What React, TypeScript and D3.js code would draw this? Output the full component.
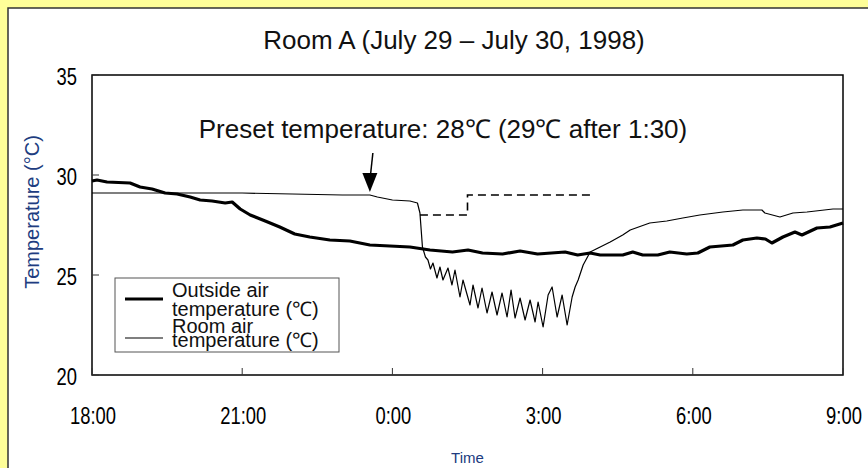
import React from "react";
import * as d3 from "d3";

// Hours elapsed since 18:00 on July 29
const outsideHours = [0, 0.1, 0.3, 0.76, 0.96, 1.2, 1.46, 1.7, 1.96, 2.16, 2.4, 2.66, 2.8, 2.96, 3.16, 3.46, 3.75, 4.05, 4.35, 4.75, 5.15, 5.55, 5.95, 6.35, 6.75, 7.2, 7.51, 7.8, 8.2, 8.55, 8.9, 9.45, 9.7, 9.95, 10.15, 10.6, 10.8, 11.0, 11.3, 11.54, 11.88, 12.1, 12.34, 12.8, 13.0, 13.28, 13.45, 13.58, 13.8, 14.04, 14.18, 14.48, 14.74, 15];
const outsideTemps = [29.7, 29.75, 29.65, 29.6, 29.4, 29.3, 29.1, 29.05, 28.9, 28.75, 28.7, 28.6, 28.65, 28.3, 28.0, 27.7, 27.4, 27.05, 26.9, 26.75, 26.7, 26.5, 26.45, 26.4, 26.25, 26.15, 26.25, 26.1, 26.05, 26.2, 26.05, 26.15, 26.0, 26.1, 26.0, 26.0, 26.15, 26.0, 26.0, 26.15, 26.05, 26.1, 26.4, 26.5, 26.75, 26.85, 26.8, 26.6, 26.9, 27.15, 27.0, 27.35, 27.4, 27.6];

const roomHours = [0, 2.0, 3.0, 4.0, 5.0, 5.55, 5.7, 6.0, 6.35, 6.5, 6.55, 6.6, 6.66, 6.71, 6.76, 6.81, 6.89, 6.95, 7.01, 7.11, 7.19, 7.25, 7.35, 7.41, 7.55, 7.61, 7.71, 7.79, 7.89, 7.99, 8.09, 8.19, 8.29, 8.37, 8.45, 8.55, 8.65, 8.75, 8.85, 8.91, 9.01, 9.11, 9.19, 9.29, 9.39, 9.49, 9.59, 9.65, 9.71, 9.81, 9.95, 10.11, 10.35, 10.6, 10.75, 11.14, 11.48, 11.8, 12.14, 12.6, 13.0, 13.38, 13.44, 13.74, 14.0, 14.28, 14.8, 15];
const roomTemps = [29.1, 29.1, 29.1, 29.05, 29.0, 29.0, 28.9, 28.75, 28.7, 28.6, 28.1, 26.4, 25.9, 25.75, 25.3, 25.6, 24.85, 25.4, 24.75, 25.35, 24.5, 25.25, 23.9, 24.75, 23.5, 24.5, 23.35, 24.35, 23.1, 24.15, 23.0, 24.1, 22.9, 24.25, 22.85, 23.85, 22.75, 23.75, 22.65, 23.65, 22.4, 24.0, 24.4, 22.9, 24.0, 22.5, 23.9, 24.4, 24.75, 25.5, 26.15, 26.35, 26.65, 27.0, 27.25, 27.6, 27.7, 27.85, 28.0, 28.15, 28.25, 28.25, 28.1, 27.9, 28.1, 28.15, 28.3, 28.3];

const presetHours = [6.55, 7.5, 7.5, 10.0];
const presetTemps = [28, 28, 29, 29];

const xTickHours = [0, 3, 6, 9, 12, 15];
const xTickLabels = ["18:00", "21:00", "0:00", "3:00", "6:00", "9:00"];
const yTicks = [20, 25, 30, 35];

const titleText = "Room A (July 29 \u2013 July 30, 1998)";
const annotationText = "Preset temperature: 28\u2103 (29\u2103 after 1:30)";
const legendLines = ["Outside air", "temperature (\u2103)", "Room air", "temperature (\u2103)"];
const arrowHour = 5.55;
const arrowFromTemp = 31.1;
const arrowToTemp = 29.15;

const W = 868;
const H = 468;
const M = { left: 92, right: 843, top: 75, bottom: 375 };
const NAVY = "#203c80";
const SANS = "'Liberation Sans', Arial, sans-serif";
const CONDENSE = 0.8;

export default function App() {
  const x = d3.scaleLinear().domain([0, 15]).range([M.left, M.right]);
  const y = d3.scaleLinear().domain([20, 35]).range([M.bottom, M.top]);
  const line = d3
    .line<[number, number]>()
    .x((d) => x(d[0]))
    .y((d) => y(d[1]));
  const outside = line(outsideHours.map((h, i) => [h, outsideTemps[i]]) as [number, number][]) || "";
  const room = line(roomHours.map((h, i) => [h, roomTemps[i]]) as [number, number][]) || "";
  const preset = line(presetHours.map((h, i) => [h, presetTemps[i]]) as [number, number][]) || "";

  const ax = x(arrowHour);
  const ay0 = y(arrowFromTemp);
  const ay1 = y(arrowToTemp);
  const legendBaselines = [297, 316, 333, 347];

  return (
    <svg
      width={W}
      height={H}
      style={{ position: "absolute", left: 0, top: 0, display: "block" }}
      fontFamily={SANS}
    >
      <rect x={0} y={0} width={W} height={H} fill="#ffff99" />
      <rect x={8} y={8} width={W} height={H} fill="#ffffff" stroke="#333" strokeWidth={1.5} />

      <text x={454} y={49} textAnchor="middle" fontSize={26} fill="#111">
        {titleText}
      </text>

      <rect
        x={M.left}
        y={M.top}
        width={M.right - M.left}
        height={M.bottom - M.top}
        fill="none"
        stroke="#000"
        strokeWidth={1.5}
      />

      {yTicks.map((t) => (
        <g key={"y" + t}>
          <line x1={M.left} x2={M.left + 7} y1={y(t)} y2={y(t)} stroke="#333" strokeWidth={1} />
          <text
            transform={`translate(77, ${y(t) + 10}) scale(${CONDENSE}, 1)`}
            textAnchor="end"
            fontSize={23}
            fill="#000"
          >
            {t}
          </text>
        </g>
      ))}

      {xTickHours.map((h, i) => (
        <g key={"x" + h}>
          <line x1={x(h)} x2={x(h)} y1={M.bottom} y2={M.bottom - 7} stroke="#333" strokeWidth={1} />
          <text
            transform={`translate(${x(h) + 1}, 424) scale(${CONDENSE}, 1)`}
            textAnchor="middle"
            fontSize={23}
            fill="#000"
          >
            {xTickLabels[i]}
          </text>
        </g>
      ))}

      <text transform={`translate(39, 212) rotate(-90)`} textAnchor="middle" fontSize={20} fill={NAVY}>
        Temperature (°C)
      </text>
      <text x={(M.left + M.right) / 2} y={463} textAnchor="middle" fontSize={15} fill={NAVY}>
        Time
      </text>

      <path d={preset} fill="none" stroke="#000" strokeWidth={1.6} strokeDasharray="8,5" />
      <path d={room} fill="none" stroke="#000" strokeWidth={1.2} strokeLinejoin="round" />
      <path d={outside} fill="none" stroke="#000" strokeWidth={3.2} strokeLinejoin="round" />

      <text x={443} y={138} textAnchor="middle" fontSize={26} fill="#111">
        {annotationText}
      </text>
      <line x1={ax + 3} y1={ay0} x2={ax + 0.5} y2={ay1 - 16} stroke="#000" strokeWidth={1.5} />
      <path d={`M${ax},${ay1} L${ax - 7.5},${ay1 - 19} L${ax + 7.5},${ay1 - 19} Z`} fill="#000" />

      <rect x={115} y={278} width={224} height={74} fill="#fff" stroke="#555" strokeWidth={1} />
      <line x1={125} x2={163} y1={299} y2={299} stroke="#000" strokeWidth={3.2} />
      <line x1={125} x2={163} y1={338} y2={338} stroke="#000" strokeWidth={1.2} />
      <g fontSize={20} fill="#111">
        {legendLines.map((t, i) => (
          <text key={i} x={172} y={legendBaselines[i]}>
            {t}
          </text>
        ))}
      </g>
    </svg>
  );
}
